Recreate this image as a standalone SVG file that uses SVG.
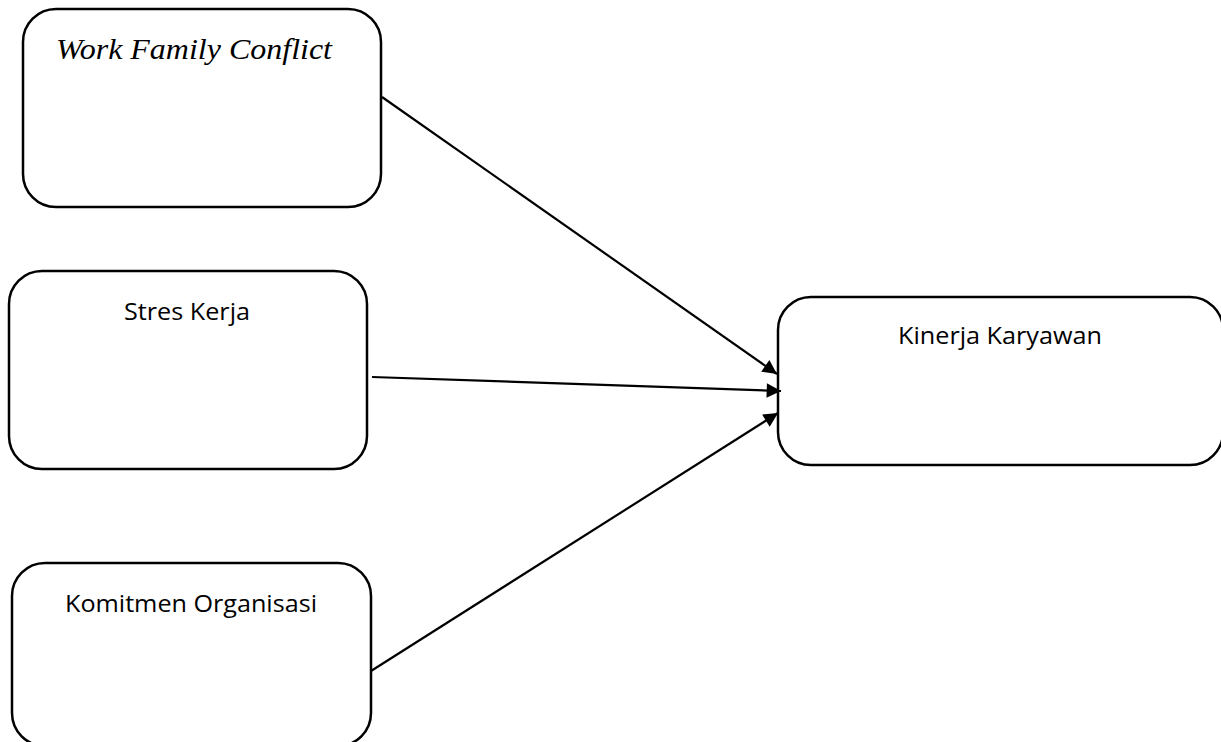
<svg xmlns="http://www.w3.org/2000/svg" width="1221" height="742" viewBox="0 0 1221 742">
<style>
.box{fill:#fff;stroke:#000;stroke-width:2.5}
.lbl{font-family:"Open Sans","Liberation Sans",sans-serif;font-size:23px;fill:#000;text-anchor:middle}
.conn{stroke:#000;stroke-width:2.2;fill:none}
</style>
<defs>
<marker id="arr" viewBox="0 0 10 10" refX="10" refY="5" markerWidth="8" markerHeight="6.5" markerUnits="strokeWidth" orient="auto">
<path d="M0,0 L10,5 L0,10 z" fill="#000"/>
</marker>
</defs>
<rect width="1221" height="742" fill="#fff"/>
<g id="node-wfc">
<rect class="box" x="23" y="9" width="358" height="198" rx="33"/>
<text x="56" y="59" font-family="'Liberation Serif',serif" font-style="italic" font-size="29" textLength="276" lengthAdjust="spacingAndGlyphs">Work Family Conflict</text>
</g>
<g id="node-stres">
<rect class="box" x="9" y="271" width="358" height="198" rx="33"/>
<text class="lbl" x="187" y="320" textLength="126" lengthAdjust="spacingAndGlyphs">Stres Kerja</text>
</g>
<g id="node-komitmen">
<rect class="box" x="12" y="563" width="359" height="183" rx="33"/>
<text class="lbl" x="191" y="612" textLength="252" lengthAdjust="spacingAndGlyphs">Komitmen Organisasi</text>
</g>
<g id="node-kinerja">
<rect class="box" x="778" y="297" width="445" height="168" rx="33"/>
<text class="lbl" x="1000" y="344" textLength="204" lengthAdjust="spacingAndGlyphs">Kinerja Karyawan</text>
</g>
<g id="connectors">
<line class="conn" x1="382" y1="97" x2="777" y2="374" marker-end="url(#arr)"/>
<line class="conn" x1="372" y1="377" x2="781" y2="391" marker-end="url(#arr)"/>
<line class="conn" x1="371" y1="671" x2="778" y2="413" marker-end="url(#arr)"/>
</g>
</svg>
